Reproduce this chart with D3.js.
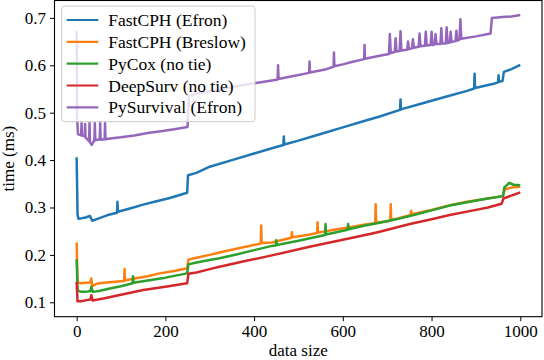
<!DOCTYPE html>
<html>
<head>
<meta charset="utf-8">
<script src="https://cdn.jsdelivr.net/npm/d3@7"></script>
<style>
  body { margin: 0; background: #fff; }
  svg text { font-family: "Liberation Serif", "DejaVu Serif", serif; fill: #000; }
</style>
</head>
<body>
<div id="chart"></div>
<script>
// series names, in drawing order
var seriesNames = ["FastCPH (Efron)", "FastCPH (Breslow)", "PyCox (no tie)", "DeepSurv (no tie)", "PySurvival (Efron)"];
var seriesColors = ["#1f77b4", "#ff7f0e", "#2ca02c", "#d62728", "#9467bd"];

// [data size, time (ms)]
var fastEfron = [[0,0.406],[2,0.285],[4,0.276],[20,0.279],[30,0.282],[35,0.272],[50,0.277],[70,0.284],[91,0.289],[92,0.312],[93,0.291],
  [120,0.298],[150,0.306],[180,0.313],[210,0.320],[249,0.331],[251,0.368],[270,0.373],[300,0.386],[350,0.400],[400,0.414],[440,0.425],
  [466,0.432],[467,0.450],[468,0.433],[500,0.441],[550,0.455],[600,0.469],[650,0.483],[683,0.492],[729,0.506],[730,0.528],[731,0.507],
  [780,0.520],[830,0.533],[880,0.546],[896,0.551],[897,0.582],[898,0.552],[940,0.561],[950,0.564],[951,0.579],[952,0.565],
  [960,0.567],[963,0.586],[980,0.592],[1000,0.601]];

var fastBreslow = [[0,0.226],[2,0.142],[10,0.140],[20,0.141],[31,0.142],[33,0.150],[35,0.134],[45,0.139],[60,0.141],[80,0.143],
  [107,0.145],[108,0.170],[109,0.146],[130,0.150],[160,0.155],[187,0.161],[220,0.166],[249,0.172],[252,0.190],[270,0.194],
  [300,0.200],[322,0.205],[360,0.213],[415,0.224],[416,0.262],[417,0.225],[440,0.226],[484,0.236],[485,0.248],[486,0.237],
  [520,0.242],[542,0.246],[543,0.269],[544,0.247],[580,0.253],[620,0.259],[650,0.264],[673,0.267],[674,0.307],[675,0.268],
  [707,0.272],[708,0.307],[709,0.273],[753,0.284],[754,0.293],[755,0.286],[800,0.295],[841,0.305],[880,0.312],[920,0.318],
  [961,0.324],[965,0.338],[980,0.342],[1000,0.344]];

var pyCox = [[0,0.191],[2,0.125],[10,0.122],[20,0.122],[31,0.124],[33,0.133],[36,0.122],[50,0.124],[80,0.130],[100,0.134],
  [126,0.140],[127,0.155],[128,0.141],[160,0.146],[200,0.152],[249,0.161],[252,0.180],[270,0.184],[300,0.189],[322,0.193],
  [360,0.201],[400,0.210],[440,0.219],[449,0.220],[450,0.231],[451,0.221],[500,0.230],[560,0.242],[561,0.265],[562,0.243],
  [611,0.253],[612,0.265],[613,0.254],[650,0.262],[683,0.268],[720,0.275],[760,0.284],[800,0.294],[841,0.304],[880,0.311],
  [920,0.318],[961,0.324],[964,0.342],[975,0.352],[985,0.348],[1000,0.347]];

var deepSurv = [[0,0.143],[2,0.102],[10,0.102],[20,0.104],[31,0.106],[33,0.115],[36,0.104],[60,0.108],[100,0.116],[150,0.126],
  [200,0.133],[249,0.140],[252,0.160],[270,0.163],[300,0.170],[322,0.175],[380,0.187],[440,0.199],[525,0.217],[600,0.232],
  [661,0.244],[683,0.249],[751,0.265],[800,0.275],[841,0.284],[900,0.295],[927,0.300],[958,0.308],[962,0.319],[980,0.325],
  [1000,0.332]];

var pySurvival = [[0,0.673],[1,0.490],[3,0.455],[10,0.452],[11,0.478],[12,0.452],[18,0.450],[19,0.476],[20,0.448],[28,0.440],
  [29,0.478],[30,0.438],[34,0.432],[40,0.442],[41,0.478],[42,0.442],[52,0.444],[53,0.478],[54,0.443],[63,0.444],[64,0.478],
  [65,0.444],[80,0.446],[100,0.448],[130,0.452],[160,0.457],[190,0.461],[220,0.465],[250,0.470],[253,0.535],[270,0.540],
  [300,0.545],[330,0.550],[360,0.556],[401,0.562],[440,0.568],[453,0.570],[454,0.600],[455,0.571],[480,0.576],[524,0.584],
  [525,0.608],[526,0.585],[560,0.591],[579,0.597],[580,0.627],[581,0.598],[600,0.602],[620,0.607],[648,0.613],[649,0.643],
  [650,0.614],[683,0.620],[704,0.624],[706,0.666],[708,0.626],[717,0.628],[719,0.657],[721,0.629],[728,0.630],[730,0.672],
  [732,0.631],[745,0.633],[747,0.650],[749,0.634],[756,0.636],[758,0.655],[760,0.637],[771,0.639],[773,0.667],[775,0.640],
  [785,0.641],[787,0.671],[789,0.642],[798,0.643],[800,0.671],[802,0.643],[807,0.644],[809,0.666],[811,0.645],[820,0.645],
  [822,0.678],[824,0.646],[832,0.646],[834,0.680],[836,0.647],[841,0.648],[843,0.671],[845,0.649],[854,0.651],[856,0.673],
  [858,0.652],[863,0.654],[865,0.697],[867,0.656],[900,0.661],[933,0.667],[936,0.700],[960,0.702],[980,0.703],[1000,0.706]];

var seriesData = [fastEfron, fastBreslow, pyCox, deepSurv, pySurvival];

var xTicks = [0, 200, 400, 600, 800, 1000];
var yTicks = [0.1, 0.2, 0.3, 0.4, 0.5, 0.6, 0.7];

// plot area
var W = 544, H = 360;
var plotLeft = 54.5, plotRight = 542, plotTop = 0.5, plotBottom = 316.7;

var svg = d3.select("#chart").append("svg")
    .attr("width", W)
    .attr("height", H);

var x = d3.scaleLinear().domain([-49.95, 1048.95]).range([plotLeft, plotRight]);
var y = d3.scaleLinear().domain([0.0696, 0.7367]).range([plotBottom, plotTop]);

// lines
var line = d3.line()
    .x(function(d) { return x(d[0]); })
    .y(function(d) { return y(d[1]); });

svg.append("defs").append("clipPath").attr("id", "clip")
  .append("rect").attr("x", plotLeft).attr("y", plotTop)
  .attr("width", plotRight - plotLeft).attr("height", plotBottom - plotTop);

seriesData.forEach(function(data, i) {
  svg.append("path")
      .datum(data)
      .attr("clip-path", "url(#clip)")
      .attr("fill", "none")
      .attr("stroke", seriesColors[i])
      .attr("stroke-width", 2.5)
      .attr("stroke-linejoin", "round")
      .attr("d", line);
});

// axes
var xAxis = svg.append("g")
    .attr("transform", "translate(0," + plotBottom + ")")
    .call(d3.axisBottom(x).tickValues(xTicks).tickSize(4.5).tickPadding(4).tickSizeOuter(0).tickFormat(d3.format("d")));
var yAxis = svg.append("g")
    .attr("transform", "translate(" + plotLeft + ",0)")
    .call(d3.axisLeft(y).tickValues(yTicks).tickSize(4.5).tickPadding(4).tickSizeOuter(0).tickFormat(d3.format(".1f")));

[xAxis, yAxis].forEach(function(g) {
  g.select(".domain").remove();
  g.selectAll(".tick line").attr("stroke", "#000").attr("stroke-width", 1);
  g.selectAll(".tick text").attr("font-size", 17).style("font-family", "Liberation Serif, serif");
});

// frame
svg.append("rect")
    .attr("x", plotLeft).attr("y", plotTop)
    .attr("width", plotRight - plotLeft).attr("height", plotBottom - plotTop)
    .attr("fill", "none").attr("stroke", "#000").attr("stroke-width", 1.1);

// axis labels
svg.append("text")
    .attr("x", (plotLeft + plotRight) / 2)
    .attr("y", 356)
    .attr("text-anchor", "middle")
    .attr("font-size", 17)
    .text("data size");

svg.append("text")
    .attr("transform", "rotate(-90)")
    .attr("x", -(plotTop + plotBottom) / 2)
    .attr("y", 14)
    .attr("text-anchor", "middle")
    .attr("font-size", 17)
    .text("time (ms)");

// legend
var legend = svg.append("g");
legend.append("rect")
    .attr("x", 61.7).attr("y", 6)
    .attr("width", 193.3).attr("height", 115.7)
    .attr("rx", 3)
    .attr("fill", "#fff").attr("fill-opacity", 0.8)
    .attr("stroke", "#cccccc").attr("stroke-width", 1);

var rowY = d3.scaleLinear().domain([0, 4]).range([20, 107.3]);
seriesNames.forEach(function(name, i) {
  legend.append("line")
      .attr("x1", 66.7).attr("x2", 98.3)
      .attr("y1", rowY(i)).attr("y2", rowY(i))
      .attr("stroke", seriesColors[i])
      .attr("stroke-width", 2.2);
  legend.append("text")
      .attr("x", 108.3)
      .attr("y", rowY(i))
      .attr("dy", "0.35em")
      .attr("font-size", 17.5)
      .text(name);
});
</script>
</body>
</html>
